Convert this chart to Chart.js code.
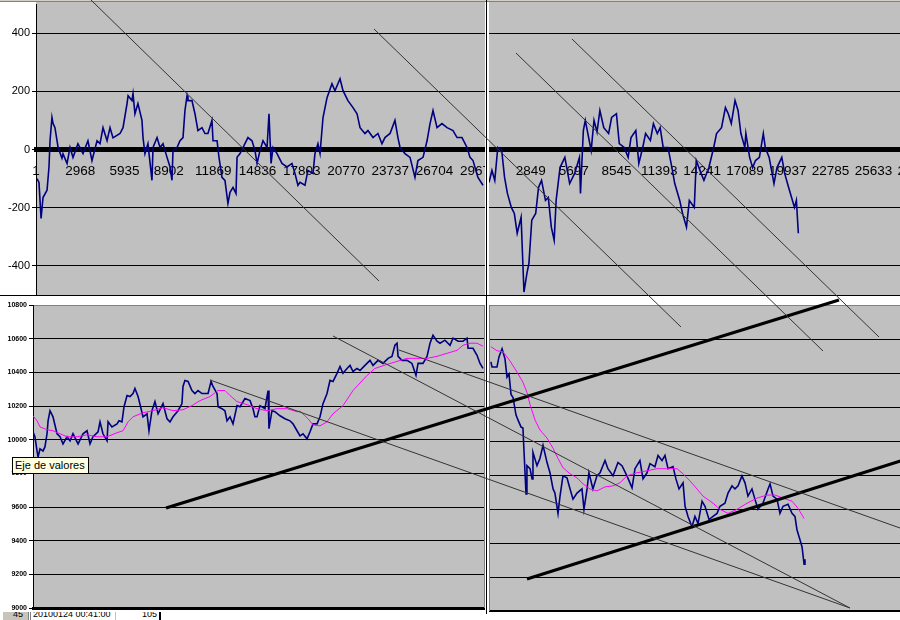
<!DOCTYPE html>
<html>
<head>
<meta charset="utf-8">
<script src="https://cdn.jsdelivr.net/npm/chart.js@4.4.1/dist/chart.umd.min.js"></script>
<style>
html, body { margin: 0; padding: 0; width: 900px; height: 620px; overflow: hidden; background: #fff;
  font-family: "Liberation Sans", Arial, sans-serif; }
.box { position: absolute; overflow: hidden; }
.box canvas { position: absolute; left: 0; top: 0; }
.line { position: absolute; }
#sheetHeader { position: absolute; left: 0; top: 0; width: 900px; height: 1px; background: #d4d0c8; border-bottom: 1px solid #808080; z-index: 3; }
#sheetRow { position: absolute; left: 0; top: 612px; width: 900px; height: 8px; overflow: hidden; background: #fff; }
#sheetRow div { position: absolute; top: 0; height: 8px; overflow: hidden; }
#sheetRow span { position: absolute; top: -4px; line-height: 13px; font-size: 9px; white-space: nowrap; }
#hint { position: absolute; left: 12px; top: 457px; width: 73px; height: 15px; background: #ffffe1; border: 1px solid #000;
  font-size: 11px; line-height: 15px; padding-left: 2px; box-sizing: content-box; z-index: 10; white-space: nowrap; }
#drawing { position: absolute; left: 0; top: 0; z-index: 8; }
</style>
</head>
<body>
<div id="sheetHeader"></div>

<div class="box" style="left:0;top:0;width:485px;height:296px"><canvas id="oscLeft" width="520" height="296"></canvas></div>
<div class="box" style="left:489px;top:0;width:411px;height:296px"><canvas id="oscRight" width="460" height="296"></canvas></div>
<div class="box" style="left:0;top:297px;width:485px;height:315px"><canvas id="priceLeft" width="485" height="315"></canvas></div>
<div class="box" style="left:489px;top:297px;width:411px;height:317px"><canvas id="priceRight" width="460" height="317"></canvas></div>

<div class="line" style="left:0;top:295px;width:900px;height:1px;background:#000;z-index:4"></div>
<div class="line" style="left:486px;top:0;width:1px;height:614px;background:#000;z-index:4"></div>
<div class="line" style="left:484px;top:305px;width:1px;height:303px;background:#808080;z-index:4"></div>
<div class="line" style="left:489px;top:305px;width:1px;height:306px;background:#808080;z-index:4"></div>

<div id="sheetRow">
  <div style="left:3px;width:25px;background:#c8c4bc;border-right:1px solid #808080"><span style="left:10px">45</span></div>
  <div style="left:30px;width:1px;background:#808080"></div>
  <div style="left:33px;width:82px"><span style="left:0">20100124&nbsp;00:41:00</span></div>
  <div style="left:115px;width:1px;background:#c0c0c0"></div>
  <div style="left:116px;width:42px"><span style="right:1px">105</span></div>
  <div style="left:159px;width:2px;background:#000"></div>
</div>

<canvas id="drawing" width="900" height="620"></canvas>
<div id="hint">Eje de valores</div>

<script>
// oscilador (ventana izquierda / derecha): muestra y valor
const oscLeftIdx = [67,200,340,470,740,870,940,1070,1140,1270,1480,1740,1810,2080,2280,2480,2810,3150,3480,3750,
  4090,4290,4490,4760,4960,5160,5630,5830,6100,6170,6430,6500,6630,6830,7100,7170,7300,7500,7770,7840,
  8110,8310,8510,8780,8980,9110,9180,9450,9650,9850,9980,10120,10180,10450,10650,10850,11120,11320,11520,11790,
  11860,12130,12260,12460,12660,12860,13000,13200,13400,13470,13670,14000,14200,14470,14670,14810,15010,15210,15480,15610,
  15750,15880,16150,16480,16820,17150,17350,17550,17690,18020,18220,18560,18690,18890,19030,19230,19500,19830,20030,20370,
  20570,20900,21240,21510,21710,22040,22240,22580,22910,23180,23380,23720,24050,24250,24390,24720,25060,25390,25590,25930,
  26200,26400,26600,26870,27200,27540,27940,28210,28540,28880,29080,29280,29610,29950];
const oscLeftVal = [-100,-113,-237,-165,-140,-60,30,110,90,75,7,-30,-15,-48,7,-27,20,-14,30,-38,
  30,20,75,30,75,40,55,75,158,185,168,192,123,158,100,41,-14,20,-106,7,
  41,7,20,-27,-60,-106,-3,7,30,41,134,185,168,168,123,65,75,55,55,100,
  30,30,-27,-96,-106,-185,-147,-130,-151,-27,-14,20,41,30,-3,-48,-3,30,7,123,
  -48,7,-14,-48,-60,-48,-82,-123,-113,-123,-72,-82,-14,20,-14,110,178,226,202,243,
  202,168,144,123,75,55,65,41,55,20,41,55,100,41,7,-14,-27,-96,-38,-27,
  30,89,134,75,89,75,65,41,41,7,-27,-38,-96,-123];

const oscRightIdx = [65,260,450,650,910,1100,1290,1550,1750,1940,2200,2390,2590,2720,2910,3170,3360,3560,3820,4010,
  4210,4400,4530,4790,5110,5430,5760,6080,6150,6340,6470,6730,6860,7050,7250,7440,7700,8020,8220,8540,
  8730,9060,9320,9510,9830,10030,10290,10480,10800,11000,11260,11450,11650,11970,12230,12420,12750,12940,13200,13390,
  13720,13850,14170,14360,14690,15010,15200,15530,15790,15980,16180,16430,16630,16820,17080,17150,17400,17600,17790,18050,
  18310,18440,18700,19020,19220,19540,19730,19990,20190,20380,20510,20640];
const oscRightVal = [-113,-72,-106,7,-3,-96,-151,-199,-220,-288,-233,-490,-425,-391,-243,-220,-130,-106,-175,-165,
  -267,-312,-175,-62,-27,-117,-82,-27,-151,65,100,31,-3,100,60,134,75,55,110,123,
  20,7,-27,41,65,-48,7,55,31,89,55,75,7,7,-62,-117,-175,-220,-267,-175,
  -199,-38,-82,-106,-62,7,55,75,144,123,89,168,134,55,7,55,-27,-62,-38,-27,
  55,7,-27,-117,-62,-27,-82,-130,-165,-199,-175,-288];

// precio y media móvil
const priceLeftIdx = [0,130,270,340,470,670,800,940,1010,1140,1340,1610,1810,2010,2280,2480,2680,3020,3350,3620,
  3820,4020,4360,4490,4690,4960,5030,5290,5630,5760,5960,6100,6300,6500,6700,6830,7040,7240,7370,7640,
  7770,7970,8170,8380,8710,8980,9180,9380,9720,9980,10050,10180,10390,10650,10850,11060,11320,11520,11730,11930,
  12060,12330,12400,12660,12860,13000,13200,13400,13670,13870,14200,14540,14740,14870,15010,15210,15540,15750,15810,16010,
  16210,16550,16880,17220,17420,17690,17890,18090,18360,18560,18760,19030,19230,19430,19700,19900,20100,20370,20570,20770,
  21040,21240,21440,21710,21910,22240,22580,22780,23120,23450,23790,24050,24250,24390,24460,24720,25060,25390,25660,25800,
  26130,26400,26600,26800,27070,27270,27600,27940,28140,28480,28810,29080,29150,29480,29750,29950,30150];
const priceLeftVal = [10047,10017,9933,9897,9945,9933,9957,10035,10112,10172,10136,10035,10017,9975,10017,9993,10035,9975,10035,10053,
  9975,10017,10047,10106,10035,9993,10106,10076,10094,10112,10106,10196,10262,10256,10274,10304,10256,10184,10136,10154,
  10053,10172,10226,10154,10214,10124,10106,10136,10172,10214,10316,10352,10346,10292,10274,10292,10274,10274,10274,10346,
  10316,10274,10196,10184,10172,10112,10136,10094,10202,10196,10244,10232,10184,10136,10136,10202,10184,10292,10065,10172,
  10166,10142,10124,10112,10094,10053,10023,10035,10005,10047,10094,10094,10136,10214,10274,10352,10346,10394,10435,10394,
  10423,10441,10405,10423,10411,10441,10471,10441,10471,10453,10483,10495,10561,10573,10495,10471,10471,10453,10382,10453,
  10453,10495,10573,10621,10585,10573,10591,10561,10603,10585,10585,10603,10543,10543,10501,10453,10423];
const avgLeftIdx = [0,270,470,940,1340,1810,2280,2950,3620,4290,4960,5630,6030,6370,6700,7370,8040,8710,9380,10050,
  10650,11190,11860,12400,12860,13200,13670,14340,15010,15680,16350,17020,17690,17890,18430,18760,19230,19700,20100,20770,
  21440,22380,22910,23720,24390,25060,25730,26400,27070,27740,28410,28810,29280,29750,30150];
const avgLeftVal = [10142,10112,10076,10059,10053,10035,10017,10017,10029,10017,10017,10041,10053,10106,10136,10160,10172,10190,10172,10178,
  10202,10232,10256,10292,10292,10262,10226,10208,10184,10172,10184,10184,10166,10170,10124,10088,10082,10106,10154,10202,
  10292,10381,10423,10447,10465,10483,10483,10483,10495,10513,10531,10561,10573,10573,10555];

const priceRightIdx = [190,260,580,710,910,1100,1230,1360,1490,1620,1810,1940,2140,2260,2460,2520,2720,2850,2910,3170,
  3360,3560,3820,4010,4210,4330,4530,4660,4850,5110,5310,5500,5760,6080,6210,6410,6530,6790,7050,7250,
  7570,7760,8090,8410,8670,8990,9320,9510,9830,10030,10290,10480,10800,11000,11260,11450,11650,11970,12160,12360,
  12620,12750,12940,13200,13390,13590,13850,14040,14300,14560,14820,15010,15330,15530,15790,15980,16180,16430,16630,16820,
  17080,17270,17470,17790,18120,18250,18440,18700,18890,19090,19410,19670,19860,19990,20190,20320,20450,20510];
const priceRightVal = [10465,10435,10435,10495,10543,10483,10376,10394,10274,10256,10154,10124,10082,10076,9688,9855,9837,9777,9933,9855,
  9897,9975,9873,9813,9718,9694,9574,9676,9795,9783,9718,9658,9694,9718,9598,9718,9813,9718,9795,9813,
  9885,9837,9795,9873,9855,9795,9724,9837,9885,9777,9813,9867,9849,9915,9885,9915,9837,9849,9777,9718,
  9754,9616,9556,9496,9556,9514,9646,9616,9538,9556,9574,9616,9634,9694,9736,9718,9736,9795,9754,9676,
  9718,9658,9598,9634,9718,9748,9676,9658,9574,9616,9628,9574,9556,9478,9418,9377,9275,9305];
const avgRightIdx = [190,580,970,1420,1880,2260,2520,2720,3040,3360,3820,4210,4530,4850,5310,5760,6150,6600,7050,7570,
  8090,8540,8990,9640,10290,10930,11580,12230,12620,13070,13520,13910,14560,15010,15530,16110,16760,17400,18050,18570,
  19090,19670,20060,20450];
const avgRightVal = [10555,10531,10525,10471,10405,10346,10286,10214,10124,10065,10017,9957,9897,9843,9807,9783,9748,9718,9706,9730,
  9736,9754,9795,9813,9825,9837,9837,9837,9807,9765,9718,9676,9634,9598,9574,9598,9634,9664,9682,9682,
  9664,9646,9604,9544];

// etiquetas de los ejes
const oscTicks = [-400, -200, 0, 200, 400];
const priceTicks = [9000, 9200, 9400, 9600, 9800, 10000, 10200, 10400, 10600, 10800];
const leftSampleTicks = [1, 2968, 5935, 8902, 11869, 14836, 17803, 20770, 23737, 26704, 29671];
const rightSampleTicks = [1, 2849, 5697, 8545, 11393, 14241, 17089, 19937, 22785, 25633, 28481];

// líneas de tendencia dibujadas sobre la hoja (coordenadas de la hoja)
const thinTrendLines = [[91,0,379,281],[374,29,681,327],[516,53,823,351],[572,39,879,337],
  [333,336,850,608],[399,350,900,528],[210,380,850,608]];
const thickTrendLines = [[166,508,839,300],[527,579,910,458]];

const NAVY = '#000080';
const MAGENTA = '#ff00ff';

Chart.defaults.font.family = "'Liberation Sans', Arial, sans-serif";
Chart.defaults.color = '#000';

const plotBackground = {
  id: 'plotBackground',
  beforeDraw(chart, args, opts) {
    const a = chart.chartArea, ctx = chart.ctx;
    const top = opts.toTop ? 0 : a.top;
    ctx.save();
    ctx.fillStyle = '#c0c0c0';
    ctx.fillRect(a.left, top, a.right - a.left, a.bottom - top);
    ctx.restore();
  }
};

function points(xs, ys) {
  return xs.map((x, i) => ({ x: x, y: ys[i] }));
}

function series(xs, ys, color, width) {
  return { data: points(xs, ys), borderColor: color, borderWidth: width, pointRadius: 0, tension: 0, fill: false };
}

function setTicks(list, min, max) {
  return s => { s.ticks = list.filter(v => v >= min && v <= max).map(v => ({ value: v })); };
}

function baseOptions(pad, toTop, scales) {
  return {
    responsive: false, animation: false, events: [],
    layout: { padding: pad },
    plugins: { legend: { display: false }, tooltip: { enabled: false }, plotBackground: { toTop: toTop } },
    scales: scales
  };
}

// eje de categorías del oscilador, cruzando en 0
function oscX(min, max, ticks) {
  return {
    type: 'linear', min: min, max: max, position: { y: 0 },
    afterBuildTicks: setTicks(ticks, min, max),
    ticks: { autoSkip: false, maxRotation: 0, padding: 14, font: { size: 13.5 }, callback: v => String(v) },
    grid: { display: false, drawTicks: false },
    border: { display: true, color: '#000', width: 5 }
  };
}

function priceX(min, max) {
  return {
    type: 'linear', min: min, max: max,
    afterFit: s => { s.height = 0; },
    ticks: { display: false },
    grid: { display: false, drawTicks: false },
    border: { display: true, color: '#000', width: 3 }
  };
}

function valueY(min, max, ticks, width, font, topGrey) {
  const labelled = width > 0;
  return {
    min: min, max: max,
    afterBuildTicks: setTicks(ticks, min, max),
    afterFit: s => { s.width = width; s.paddingTop = 0; s.paddingBottom = 0; },
    ticks: { display: labelled, padding: labelled ? 2 : 0, font: font, callback: v => String(v) },
    grid: {
      color: c => (topGrey && c.tick && c.tick.value === max) ? '#808080' : '#000',
      tickColor: '#000', tickLength: 4, drawTicks: labelled
    },
    border: { display: labelled, color: '#000', width: 1 }
  };
}

new Chart(document.getElementById('oscLeft'), {
  type: 'line',
  data: { datasets: [series(oscLeftIdx, oscLeftVal, NAVY, 1.6)] },
  plugins: [plotBackground],
  options: baseOptions({ top: 4, bottom: 1, left: 0, right: 0 }, true, {
    x: oscX(0, 32428, leftSampleTicks),
    y: valueY(-500, 500, oscTicks, 36, { size: 11 }, false)
  })
});

new Chart(document.getElementById('oscRight'), {
  type: 'line',
  data: { datasets: [series(oscRightIdx, oscRightVal, NAVY, 1.6)] },
  plugins: [plotBackground],
  options: baseOptions({ top: 4, bottom: 1, left: 0, right: 0 }, true, {
    x: oscX(65, 29827, rightSampleTicks),
    y: valueY(-500, 500, oscTicks, 0, { size: 11 }, false)
  })
});

new Chart(document.getElementById('priceLeft'), {
  type: 'line',
  data: { datasets: [series(avgLeftIdx, avgLeftVal, MAGENTA, 1), series(priceLeftIdx, priceLeftVal, NAVY, 1.6)] },
  plugins: [plotBackground],
  options: baseOptions({ top: 8, bottom: 4, left: 0, right: 0 }, false, {
    x: priceX(0, 30284),
    y: valueY(9000, 10800, priceTicks, 33, { size: 7, weight: 'bold' }, true)
  })
});

new Chart(document.getElementById('priceRight'), {
  type: 'line',
  data: { datasets: [series(avgRightIdx, avgRightVal, MAGENTA, 1), series(priceRightIdx, priceRightVal, NAVY, 1.6)] },
  plugins: [plotBackground],
  options: baseOptions({ top: 8, bottom: 3, left: 0, right: 0 }, false, {
    x: priceX(65, 29827),
    y: valueY(9000, 10800, priceTicks, 0, { size: 7, weight: 'bold' }, true)
  })
});

// capa de dibujo con las líneas de tendencia
const trendSets = [];
thinTrendLines.forEach(t => trendSets.push({
  data: [{ x: t[0], y: t[1] }, { x: t[2], y: t[3] }], borderColor: '#333', borderWidth: 1, pointRadius: 0
}));
thickTrendLines.forEach(t => trendSets.push({
  data: [{ x: t[0], y: t[1] }, { x: t[2], y: t[3] }], borderColor: '#000', borderWidth: 3, pointRadius: 0
}));

new Chart(document.getElementById('drawing'), {
  type: 'line',
  data: { datasets: trendSets },
  options: {
    responsive: false, animation: false, events: [],
    layout: { padding: 0 },
    plugins: { legend: { display: false }, tooltip: { enabled: false } },
    scales: {
      x: { type: 'linear', min: 0, max: 900, display: false },
      y: { type: 'linear', min: 0, max: 620, reverse: true, display: false }
    }
  }
});
</script>
</body>
</html>
